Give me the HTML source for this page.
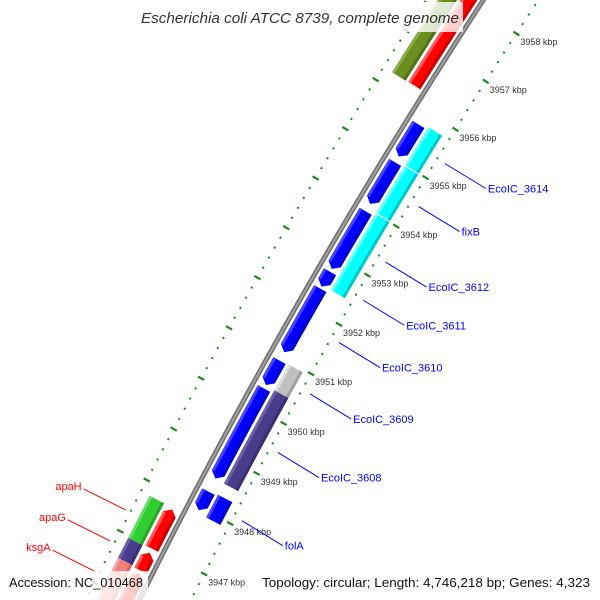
<!DOCTYPE html>
<html><head><meta charset="utf-8"><style>
html,body{margin:0;padding:0;background:#fff;width:600px;height:600px;overflow:hidden}
svg{display:block;font-family:"Liberation Sans",sans-serif}
</style></head><body>
<svg id="map" width="600" height="600" viewBox="0 0 600 600" xmlns="http://www.w3.org/2000/svg">
<defs><clipPath id="frame"><rect x="0" y="0" width="600" height="600"/></clipPath></defs>
<rect x="0" y="0" width="600" height="600" fill="#fff"/>
<g clip-path="url(#frame)">
<g id="ticks"></g>
<g id="backbone"></g>
<g id="features"></g>
<g id="labels"></g>
</g>
<rect x="138" y="2" width="325" height="30" fill="#fff" fill-opacity="0.8"/>
<text x="300" y="23" text-anchor="middle" font-size="15" font-style="italic" fill="#333" textLength="318" lengthAdjust="spacingAndGlyphs">Escherichia coli ATCC 8739, complete genome</text>
<rect x="4" y="571" width="144" height="29" fill="#fff" fill-opacity="0.8"/>
<text x="9" y="587" font-size="13" fill="#111" textLength="134" lengthAdjust="spacingAndGlyphs">Accession: NC_010468</text>
<text x="262" y="587" font-size="13" fill="#111" textLength="328" lengthAdjust="spacingAndGlyphs">Topology: circular; Length: 4,746,218 bp; Genes: 4,323</text>
</svg>
<script>
// feature data (kbp)
const featStart = [3955.07,3954.10,3952.78,3952.42,3951.10,3950.44,3948.58,3947.95,
  3955.00,3954.02,3952.45,3950.43,3948.57,3947.90,
  3956.27,3946.98,3946.55,3945.70,
  3956.26,3959.03,3946.96,3946.57,3945.78,3945.40];
const featEnd = [3955.73,3954.95,3953.95,3952.72,3952.38,3950.93,3950.37,3948.32,
  3955.78,3954.98,3954.00,3950.95,3950.43,3948.35,
  3959.20,3947.75,3946.90,3946.50,
  3959.00,3959.50,3947.78,3946.96,3946.57,3945.76];
const featTrack = [1,1,1,1,1,1,1,1, 2,2,2,2,2,2, -1,-1,-1,-1, -2,-2,-2,-2,-2,-2];
const featDir = [-1,-1,-1,-1,-1,-1,-1,-1, 0,0,0,0,0,0, 1,1,1,1, 0,0,0,0,0,0];
const featColor = ["#0000ff","#0000ff","#0000ff","#0000ff","#0000ff","#0000ff","#0000ff","#0000ff",
  "#00ffff","#00ffff","#00ffff","#c0c0c0","#483d8b","#0000ff",
  "#ff0000","#ff0000","#ff0000","#ff0000",
  "#6b8e23","#483d8b","#32cd32","#483d8b","#f08080","#0000ff"];
const featLight = ["#4444ff","#4444ff","#4444ff","#4444ff","#4444ff","#4444ff","#4444ff","#4444ff",
  "#66ffff","#66ffff","#66ffff","#dddddd","#6a60a8","#4444ff",
  "#ff5555","#ff5555","#ff5555","#ff5555",
  "#8aad45","#6a60a8","#5ee05e","#6a60a8","#f6a0a0","#4444ff"];
const featDark = ["#0000c8","#0000c8","#0000c8","#0000c8","#0000c8","#0000c8","#0000c8","#0000c8",
  "#00c8c8","#00c8c8","#00c8c8","#a0a0a0","#383070","#0000c8",
  "#cc0000","#cc0000","#cc0000","#cc0000",
  "#557019","#383070","#28a828","#383070","#d06868","#0000c8"];
// labels
const labelNames = ["EcoIC_3614","fixB","EcoIC_3612","EcoIC_3611","EcoIC_3610","EcoIC_3609","EcoIC_3608","folA","apaH","apaG","ksgA"];
const labelKbp = [3955.39,3954.50,3953.36,3952.58,3951.72,3950.68,3949.50,3948.14,3947.37,3946.77,3946.18];
const labelSide = [1,1,1,1,1,1,1,1,-1,-1,-1];
// tick range
const tickStartKbp = 3944;
const tickEndKbp = 3961;
const tickStepKbp = 0.2;

const NS = "http://www.w3.org/2000/svg";
const CX = 5516.8, CY = 3284;
const RT = 5964, RB = 6010, RI = 6058;
function theta(k){ return -Math.PI + 0.4717 + (k - 3947) * 0.009518; }
function P(k, r){ const t = theta(k); return [CX + r*Math.cos(t), CY + r*Math.sin(t)]; }
function mk(tag, attrs, parent){ const e = document.createElementNS(NS, tag); for (const a in attrs) e.setAttribute(a, attrs[a]); parent.appendChild(e); return e; }
function arcPts(a, b, r){ const pts = []; const n = Math.max(2, Math.ceil((b - a) / 0.05)); for (let i = 0; i <= n; i++) pts.push(P(a + (b - a) * i / n, r)); return pts; }
function ptsStr(p){ return p.map(q => q[0].toFixed(2) + "," + q[1].toFixed(2)).join(" "); }
function inFrame(p){ return p[0] >= -2 && p[0] <= 602 && p[1] >= -2 && p[1] <= 602; }

// ticks
const gT = document.getElementById("ticks");
const nT = Math.round((tickEndKbp - tickStartKbp) / tickStepKbp);
for (let i = 0; i <= nT; i++) {
  const k = +(tickStartKbp + i * tickStepKbp).toFixed(1);
  const major = Math.abs(k - Math.round(k)) < 1e-6;
  [RT, RI].forEach(function(R){
    const h = major ? 3.5 : 1;
    const a = P(k, R - h), b = P(k, R + h);
    if (!inFrame(a) || !inFrame(b)) return;
    const ln = mk("line", {x1:a[0], y1:a[1], x2:b[0], y2:b[1], stroke:"#1a8a1a", "stroke-width": major ? 2.2 : 2}, gT);
    
    
  });
  if (major) {
    const p = P(k, RT);
    if (p[1] < 0 || p[1] > 590 || p[0] > 560) continue;
    const t = mk("text", {x:(p[0] + 4).toFixed(1), y:(p[1] + 11.5).toFixed(1), "font-size":"9", fill:"#333"}, gT);
    t.textContent = Math.round(k) + " kbp";
    
    
  }
}

// backbone
const gB = document.getElementById("backbone");
const bb = arcPts(3945.2, 3959.8, RB);
const b1 = mk("polyline", {points:ptsStr(bb), fill:"none", stroke:"#707070", "stroke-width":"5"}, gB);


const b2 = mk("polyline", {points:ptsStr(bb), fill:"none", stroke:"#a0a0a0", "stroke-width":"2"}, gB);



// features
const gF = document.getElementById("features");
function trackR(tr){
  if (tr === 1) return [RB - 19, RB - 5];
  if (tr === 2) return [RB - 38, RB - 22];
  if (tr === -1) return [RB + 5, RB + 19];
  return [RB + 22, RB + 38];
}
const HEAD = 0.1;
for (let i = 0; i < featStart.length; i++) {
  const a = featStart[i], b = featEnd[i];
  const rr = trackR(featTrack[i]); const rIn = rr[0], rOut = rr[1], rMid = (rIn + rOut) / 2;
  let ba = a, bbk = b, pts;
  if (featDir[i] === -1) {
    ba = a + HEAD;
    pts = [P(a, rMid)].concat(arcPts(ba, b, rOut), arcPts(ba, b, rIn).reverse());
  } else if (featDir[i] === 1) {
    bbk = b - HEAD;
    pts = arcPts(a, bbk, rOut).concat([P(b, rMid)], arcPts(a, bbk, rIn).reverse());
  } else {
    pts = arcPts(a, b, rOut).concat(arcPts(a, b, rIn).reverse());
  }
  const g = mk("g", {}, gF);
  
  
  const body = mk("polygon", {points:ptsStr(pts), fill:featColor[i]}, g);
  
  
  const light = mk("polygon", {points:ptsStr(arcPts(ba, bbk, rOut).concat(arcPts(ba, bbk, rOut - 3).reverse())), fill:featLight[i]}, g);
  
  
  const dark = mk("polygon", {points:ptsStr(arcPts(ba, bbk, rIn + 3).concat(arcPts(ba, bbk, rIn).reverse())), fill:featDark[i]}, g);
  
  
}

// labels
const gL = document.getElementById("labels");
for (let i = 0; i < labelNames.length; i++) {
  const right = labelSide[i] === 1;
  const p = right ? P(labelKbp[i], RT - 9) : P(labelKbp[i], RI + 5);
  const e = right ? [p[0] + 41, p[1] + 25] : [p[0] - 42, p[1] - 21];
  const col = right ? "#0000ff" : "#ff0000";
  const ln = mk("line", {x1:p[0], y1:p[1], x2:e[0], y2:e[1], stroke:col, "stroke-width":"1"}, gL);
  
  
  const t = mk("text", {x: right ? e[0] + 2 : e[0] - 2, y: right ? e[1] + 4 : e[1] + 1, "font-size":"11", fill:col, "text-anchor": right ? "start" : "end"}, gL);
  t.textContent = labelNames[i];
  
  
}
</script>
</body></html>
